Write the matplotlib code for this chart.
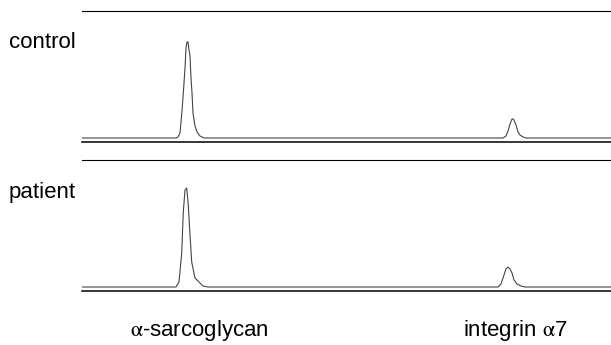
import matplotlib.pyplot as plt
import numpy as np

plt.rcParams['font.family'] = ['Liberation Sans', 'DejaVu Sans']
plt.rcParams['mathtext.fontset'] = 'stix'

# densitometry traces: migration position vs signal above baseline
control_pos = [82, 176, 178, 180, 182, 184, 185, 186, 187, 188, 189, 190, 191, 192, 193, 195, 197, 200, 204,
               503, 506, 508, 510, 512, 513, 514, 516, 518, 520, 523, 526, 611]
control_sig = [0, 0, 1, 5, 27, 55, 70, 90, 96, 96, 88, 82, 60, 45, 25, 12, 6, 2, 0,
               0, 2, 7, 14, 19, 19, 18, 13, 6, 3, 1, 0, 0]

patient_pos = [82, 176, 179, 181.7, 183.3, 185, 186.7, 188.3, 190, 191.7, 195, 203, 208,
               498, 501, 504, 506, 508, 510, 512, 514, 517, 521, 525, 611]
patient_sig = [0, 0, 5, 34, 75, 97, 99, 82, 52, 25, 9, 1, 0,
               0, 3, 12, 18, 20, 18, 14, 7, 3, 1, 0, 0]

panel_names = ['control', 'patient']
band_labels = [r'$\mathrm{\alpha}$-sarcoglycan', r'integrin $\mathrm{\alpha}$7']
band_pos = [199, 515]

W, H = 611, 345
fig = plt.figure(figsize=(W / 100, H / 100), dpi=100)

panels = [(control_pos, control_sig, 10.5, 142), (patient_pos, patient_sig, 159.5, 291)]
label_base = [48, 198]
for (pos, sig, top, bot), name, lb in zip(panels, panel_names, label_base):
    ax = fig.add_axes([82 / W, 1 - bot / H, (W - 82) / W, (bot - top) / H])
    ax.plot(pos, sig, color='#444444', lw=0.8)
    ax.set_xlim(82, 611)
    ax.set_ylim(-4, 127.5)
    for s in ['left', 'right']:
        ax.spines[s].set_visible(False)
    ax.spines['top'].set_linewidth(0.8)
    ax.spines['bottom'].set_linewidth(1.1)
    ax.set_xticks([])
    ax.set_yticks([])
    ax.patch.set_alpha(0)
    fig.text(9 / W, 1 - lb / H, name, fontsize=16, va='baseline', ha='left')

for lab, x in zip(band_labels, band_pos):
    fig.text(x / W, 1 - 336 / H, lab, fontsize=16, va='baseline', ha='center')

fig.savefig('out.png', dpi=100)
